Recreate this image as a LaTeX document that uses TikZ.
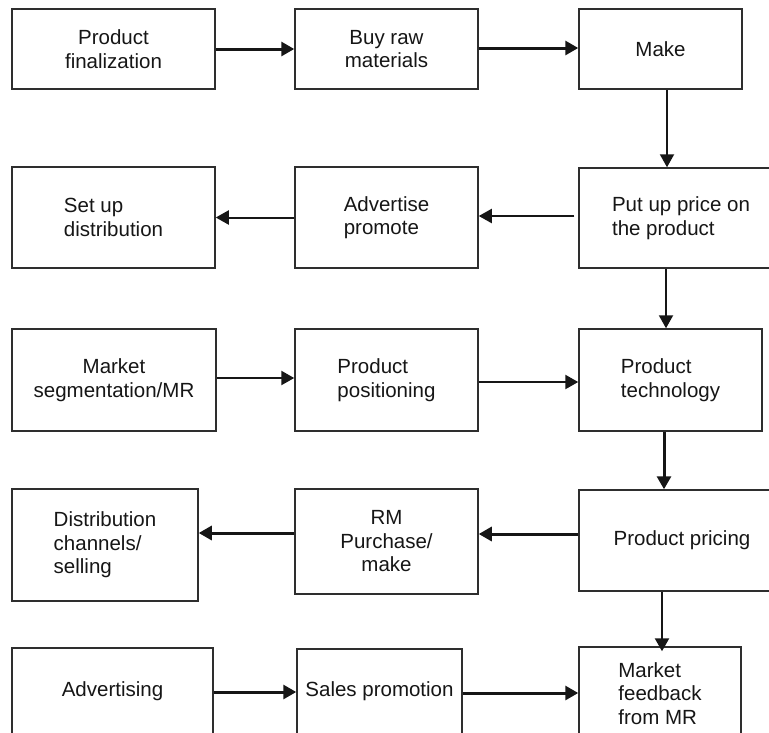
\documentclass[tikz,border=0pt]{standalone}
\usepackage{fontspec}
\setmainfont{Liberation Sans}
\usetikzlibrary{arrows.meta}
\definecolor{edge}{HTML}{2E2E2E}
\definecolor{ink}{HTML}{161616}
\begin{document}
\begin{tikzpicture}[x=1pt,y=-1pt,
  box/.style={draw=edge,line width=1.5pt,rectangle,inner sep=0pt,
    font=\fontsize{20.5}{23.5}\selectfont,text=ink,align=center},
  lbox/.style={box,align=left},
  arr/.style={draw=ink,-{Triangle[length=13pt,width=14pt]}},
  thin/.style={arr,line width=2pt},
  mid/.style={arr,line width=2.4pt},
  heavy/.style={arr,line width=3pt}]
\useasboundingbox (0,0) rectangle (769,732);
\clip (0,0) rectangle (769,732);
\fill[white] (0,0) rectangle (769,732);

% row 1
\node[box,minimum width=203pt,minimum height=80pt] (fin) at (113.5,49) {Product\\finalization};
\node[box,minimum width=183pt,minimum height=80pt] (buy) at (386.5,49) {Buy raw\\materials};
\node[box,minimum width=163pt,minimum height=80pt] (make) at (660.5,49) {Make};

% row 2
\node[lbox,minimum width=203pt,minimum height=101pt] (setup) at (113.5,217.5) {Set up\\distribution};
\node[lbox,minimum width=183pt,minimum height=101pt] (adv) at (386.5,217.5) {Advertise\\promote};
\node[lbox,minimum width=204pt,minimum height=100pt] (price) at (681,218) {Put up price on\\the product};

% row 3
\node[box,minimum width=204pt,minimum height=102pt] (seg) at (114,380) {Market\\segmentation/MR};
\node[lbox,minimum width=183pt,minimum height=102pt] (pos) at (386.5,380) {Product\\positioning};
\node[lbox,minimum width=183pt,minimum height=102pt] (tech) at (670.5,380) {Product\\technology};

% row 4
\node[lbox,minimum width=186pt,minimum height=112pt] (chan) at (105,545) {Distribution\\channels/\\selling};
\node[box,minimum width=183pt,minimum height=105pt] (rm) at (386.5,541.5) {RM\\Purchase/\\make};
\node[box,minimum width=206pt,minimum height=101pt] (pricing) at (682,540.5) {Product pricing};

% row 5
\node[box,minimum width=201pt,minimum height=86pt] (advt) at (112.5,691) {Advertising};
\node[box,minimum width=165pt,minimum height=85pt] (sales) at (379.5,691.5) {Sales promotion};
\node[lbox,minimum width=162pt,minimum height=93pt] (feed) at (660,693.5) {Market\\feedback\\from MR};

% connectors
\draw[heavy] (fin.east) -- (buy.west);
\draw[heavy] ([yshift=1pt]buy.east) -- ([yshift=1pt]make.west);
\draw[thin] ([xshift=6.5pt]make.south) -- ([xshift=6.5pt]make.south |- price.north);
\draw[thin] ([xshift=-4pt,yshift=2pt]price.west) -- ([yshift=2pt]price.west -| adv.east);
\draw[thin] (adv.west) -- (setup.east);
\draw[thin] ([xshift=-4.5pt]tech.north |- price.south) -- ([xshift=-4.5pt]tech.north);
\draw[mid] ([yshift=2pt]seg.east) -- ([yshift=2pt]pos.west);
\draw[mid] ([yshift=-2pt]pos.east) -- ([yshift=-2pt]tech.west);
\draw[heavy] ([xshift=-6.5pt]tech.south) -- ([xshift=-6.5pt]tech.south |- pricing.north);
\draw[heavy] ([yshift=6.5pt]pricing.west) -- ([yshift=6.5pt]pricing.west -| rm.east);
\draw[heavy] ([yshift=8.5pt]rm.west) -- ([yshift=8.5pt]rm.west -| chan.east);
\draw[mid] ([xshift=2pt]feed.north |- pricing.south) -- ([xshift=2pt,yshift=-5pt]feed.north);
\draw[heavy] ([yshift=-1pt]advt.east) -- ([yshift=-1pt]advt.east -| sales.west);
\draw[heavy] ([yshift=-1.5pt]sales.east) -- ([yshift=-1.5pt]sales.east -| feed.west);
\end{tikzpicture}
\end{document}
